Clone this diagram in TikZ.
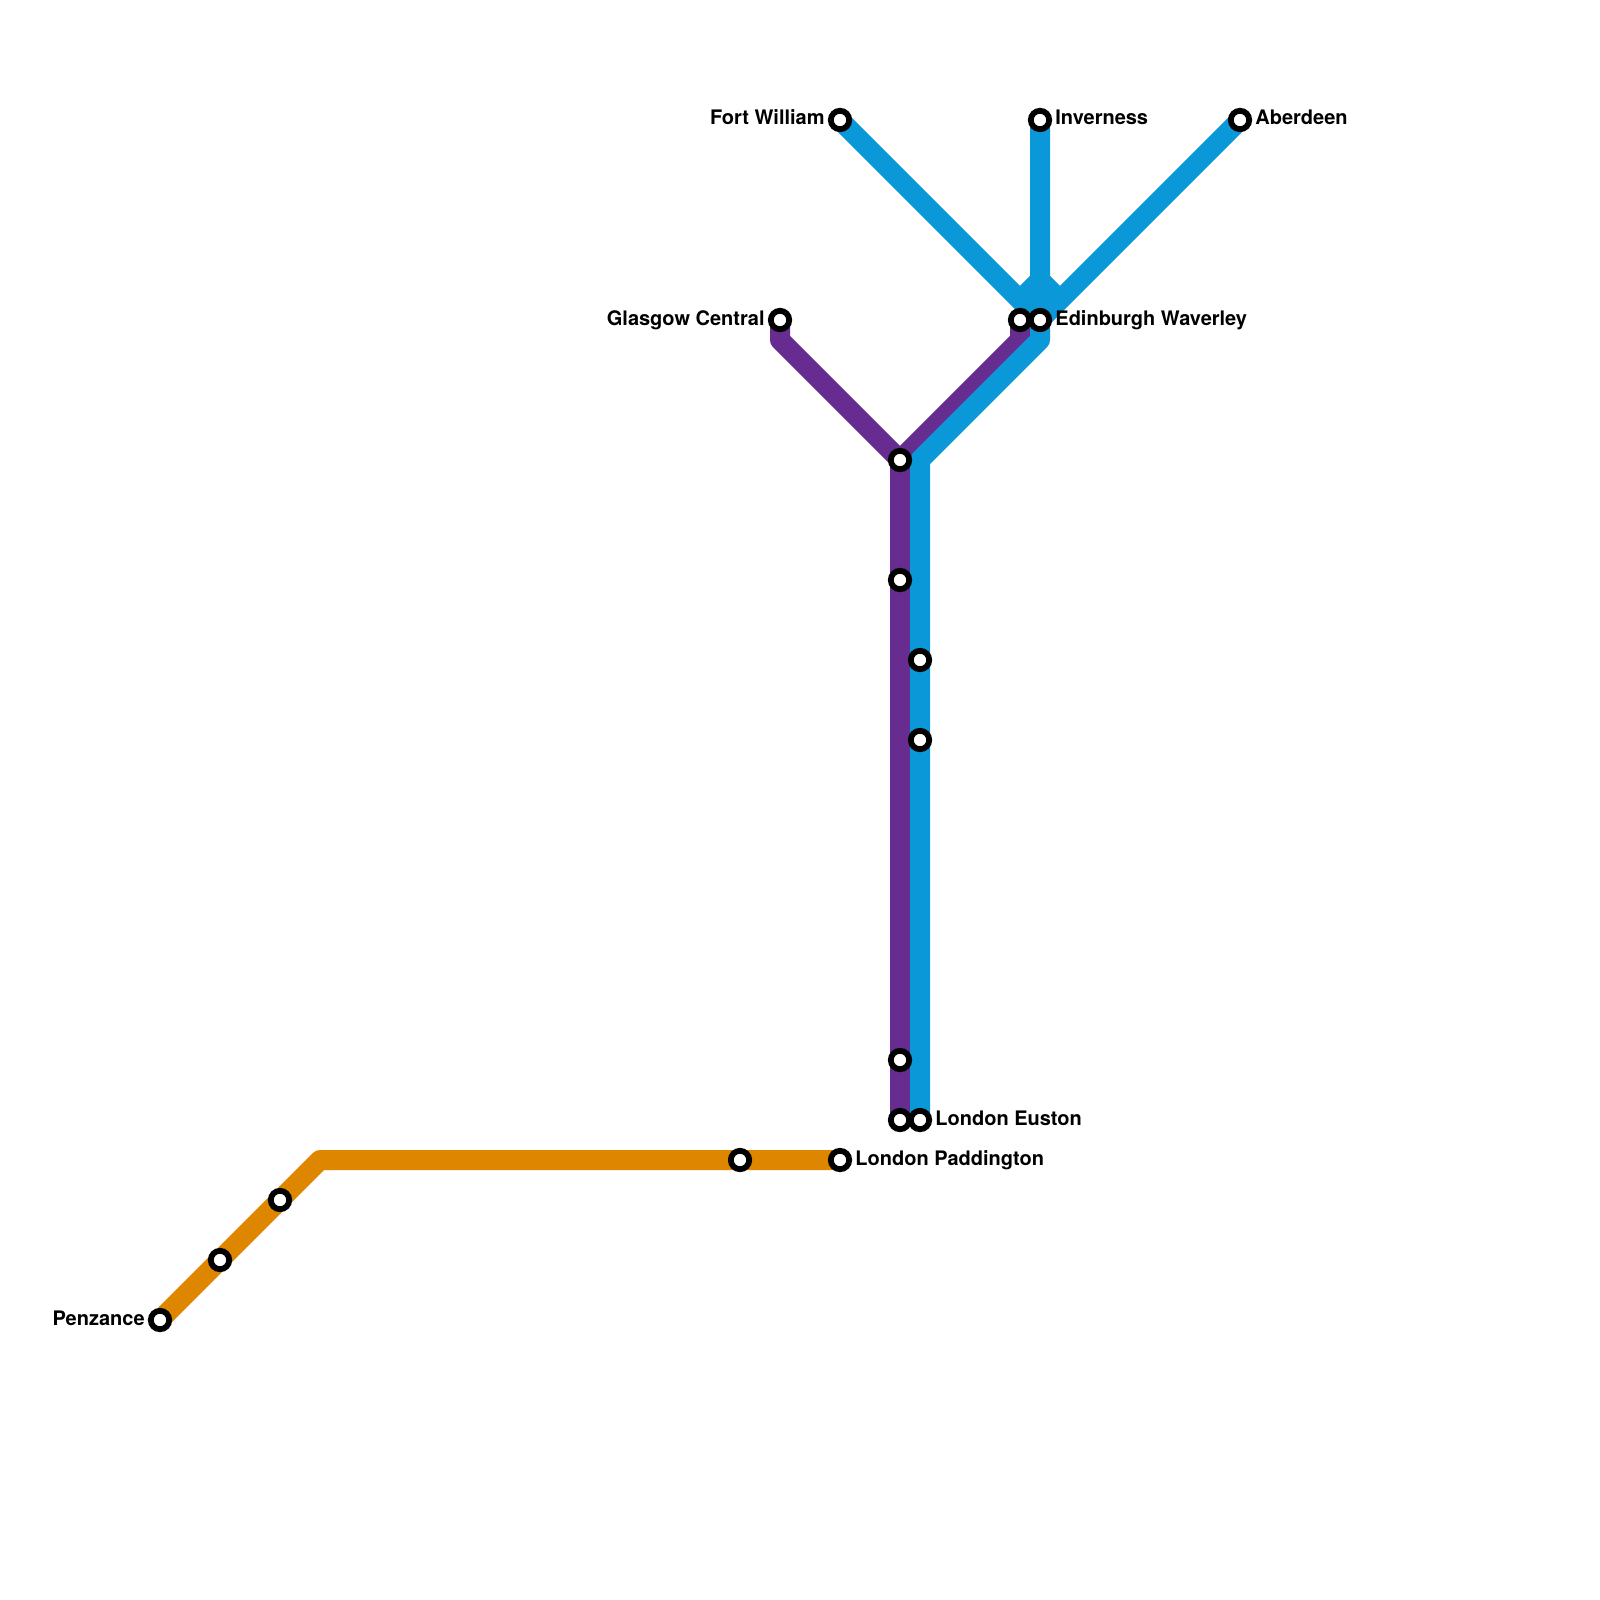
\documentclass[tikz,border=0pt]{standalone}
\usepackage{fontspec}
\setmainfont{TeX Gyre Heros}
\definecolor{lineblue}{HTML}{0A98D8}
\definecolor{linepurple}{HTML}{662C90}
\definecolor{lineorange}{HTML}{DF8600}
\tikzset{
  rail/.style={line width=10pt,line join=round,line cap=butt},
  stn/.style={circle,draw=black,fill=white,line width=2.9pt,minimum size=9.2pt,inner sep=0pt},
  lblr/.style={font=\bfseries\fontsize{10pt}{12pt}\selectfont,text=black,anchor=base west,inner sep=0pt},
  lbll/.style={font=\bfseries\fontsize{10pt}{12pt}\selectfont,text=black,anchor=base east,inner sep=0pt}
}
\pgfdeclarelayer{railbg}\pgfsetlayers{railbg,main}
\begin{document}
\begin{tikzpicture}[x=0.5pt,y=-0.5pt]
\useasboundingbox (0,0) rectangle (1600,1600);
\coordinate (fwEnd) at (1020,300);
\coordinate (abEnd) at (1060,300);
\coordinate (apex) at (1040,280);
\coordinate (bEdinLow) at (1040,340);
\coordinate (bJunc) at (920,460);
\coordinate (gBend) at (780,340);
\coordinate (pEdinLow) at (1020,340);
\coordinate (oBend) at (320,1160);
\begin{scope}[every node/.style={stn}]
\path node (fw) at (840,120) {} node (inv) at (1040,120) {} node (ab) at (1240,120) {}
 node (gla) at (780,320) {} node (edp) at (1020,320) {} node (edb) at (1040,320) {}
 node (j1) at (900,460) {} node (p2) at (900,580) {} node (b1) at (920,660) {} node (b2) at (920,740) {}
 node (p3) at (900,1060) {} node (eup) at (900,1120) {} node (eub) at (920,1120) {}
 node (pen) at (160,1320) {} node (o1) at (220,1260) {} node (o2) at (280,1200) {}
 node (o3) at (740,1160) {} node (pad) at (840,1160) {};
\end{scope}
\begin{pgfonlayer}{railbg}
\draw[rail,lineorange] (pen.center) -- (oBend) -- (pad.center);
\draw[rail,linepurple] (gla.center) -- (gBend) -- (j1.center) -- (eup.center);
\draw[rail,linepurple] (j1.center) -- (pEdinLow) -- (edp.center);
\draw[rail,lineblue] (fw.center) -- (edb.center);
\draw[rail,lineblue] (ab.center) -- (edb.center);
\draw[rail,lineblue] (fwEnd) -- (apex) -- (abEnd);
\draw[rail,lineblue] (inv.center) -- (bEdinLow) -- (bJunc) -- (eub.center);
\end{pgfonlayer}
\node[lbll] (lfw) at (825,125) {Fort William};
\node[lblr] (linv) at (1055,125) {Inverness};
\node[lblr] (lab) at (1255,125) {Aberdeen};
\node[lbll] (lgla) at (765,325) {Glasgow Central};
\node[lblr] (ledb) at (1055,325) {Edinburgh Waverley};
\node[lblr] (leu) at (935,1125) {London Euston};
\node[lblr] (lpad) at (855,1165) {London Paddington};
\node[lbll] (lpen) at (145,1325) {Penzance};
\end{tikzpicture}
\end{document}
